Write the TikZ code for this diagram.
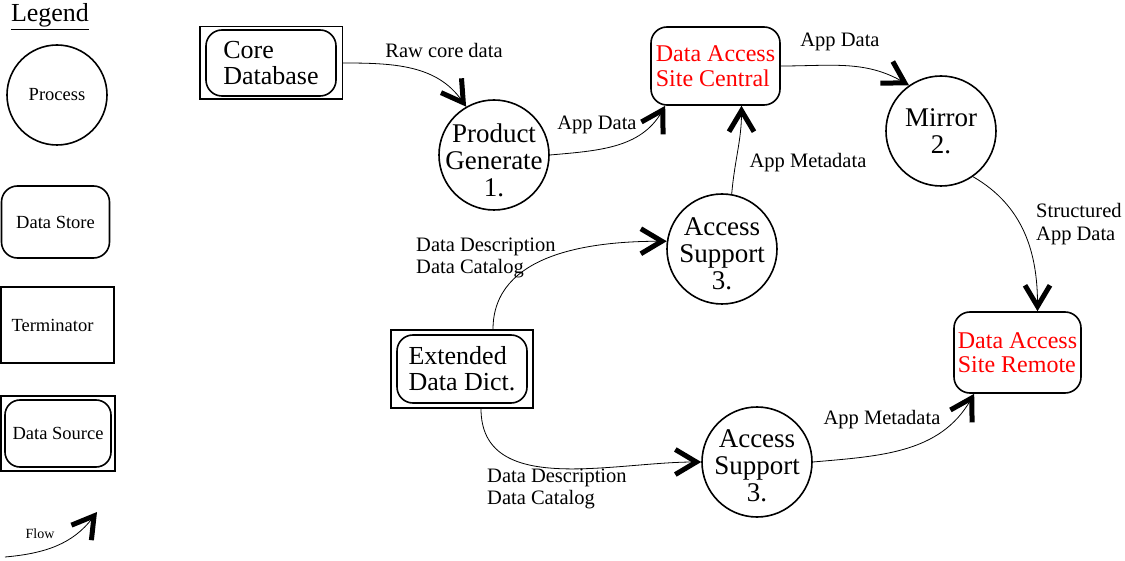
\documentclass[tikz,border=0pt]{standalone}
\usepackage{fontspec}
\setmainfont{Liberation Serif}
\usetikzlibrary{arrows.meta,fit}
\newcommand{\mybigfont}{\fontsize{27}{27}\selectfont}
\newcommand{\myboxfont}{\fontsize{26}{26}\selectfont}
\newcommand{\myredfont}{\fontsize{24}{24.5}\selectfont}
\newcommand{\mysmallfont}{\fontsize{20.5}{22.5}\selectfont}
\newcommand{\mylegendfont}{\fontsize{18.5}{20}\selectfont}
\tikzset{
  process/.style={circle, draw, line width=1.6pt, minimum size=110pt, inner sep=0pt},
  proctext/.style={align=center, font=\mybigfont},
  datastore/.style={rectangle, rounded corners=16pt, draw, line width=1.6pt, align=left},
  terminator/.style={rectangle, draw, line width=1.6pt},
  sourceframe/.style={rectangle, draw, line width=1.6pt, inner sep=0pt},
  flow/.style={-{Straight Barb[length=21pt,width=25pt,line width=5pt]}, line width=0.8pt},
  flowlabel/.style={font=\mysmallfont, align=left, inner sep=0pt},
}
\begin{document}
\begin{tikzpicture}[x=1pt,y=1pt]
\useasboundingbox (0,0) rectangle (1125,-561);
%Legend
\node [font=\fontsize{26}{26}\selectfont, anchor=base, inner sep=0pt] (legtitle) at (50,-22) {\underline{Legend}};
\node [process, minimum size=100pt, font=\mylegendfont] (legproc) at (57,-95) {Process};
\node [datastore, minimum width=108pt, minimum height=72pt, font=\mylegendfont] (legstore) at (55.5,-222) {Data Store};
\node [terminator, minimum width=113pt, minimum height=76pt, font=\mylegendfont] (legterm) at (57.5,-325) {\hspace*{-10pt}Terminator};
\node [datastore, rounded corners=15pt, minimum width=106pt, minimum height=67pt, font=\mylegendfont] (legsource) at (58,-433.5) {Data Source};
\node [sourceframe, fit=(legsource), inner xsep=3pt, inner ysep=3pt] (legsourceframe) {};
%Legend flow
\coordinate (flowstart) at (5,-557);
\coordinate (flowend) at (97,-512);
\draw [flow] (flowstart) to[out=5,in=-127] (flowend);
\node [font=\fontsize{14}{16}\selectfont] (flowtext) at (40,-534) {Flow};
%Sources
\node [datastore, minimum width=130pt, minimum height=66pt, font=\myboxfont] (coredb) at (271,-63) {Core\\Database};
\node [sourceframe, fit=(coredb), inner xsep=5.5pt, inner ysep=2.5pt] (coredbframe) {};
\node [datastore, minimum width=130pt, minimum height=68pt, font=\myboxfont] (dict) at (462,-369) {Extended\\Data Dict.};
\node [sourceframe, fit=(dict), inner xsep=5pt, inner ysep=4pt] (dictframe) {};
%Processes
\node [process, label={[proctext, yshift=-5pt]center:Product\\Generate\\1.}] (prodgen) at (494,-155) {};
\node [process, label={[proctext]center:Mirror\\2.}] (mirror) at (941,-131) {};
\node [process, label={[proctext, yshift=-5pt]center:Access\\Support\\3.}] (accsup1) at (722,-249) {};
\node [process, label={[proctext, yshift=-4pt]center:Access\\Support\\3.}] (accsup2) at (757,-462) {};
%Data stores
\node [datastore, minimum width=129pt, minimum height=78pt, text=red, font=\myredfont] (dasc) at (715.5,-66) {Data Access\\Site Central};
\node [datastore, minimum width=127pt, minimum height=81pt, text=red, font=\myredfont] (dasr) at (1017.5,-352.5) {Data Access\\Site Remote};
%Flows
\draw [flow] (coredbframe.east) to[out=0,in=125] (prodgen.120);
\draw [flow] (prodgen.east) to[out=5,in=-120] ([xshift=15pt]dasc.south west);
\draw [flow] (accsup1.80) to[out=85,in=-90] ([xshift=26pt]dasc.south);
\draw [flow] (dasc.east) to[out=0,in=150] (mirror.125);
\draw [flow] (mirror.-55) to[out=-30,in=90] ([xshift=20pt]dasr.north);
\draw [flow] ([xshift=31pt]dictframe.north) to[out=90,in=180] (accsup1.172);
\draw [flow] ([xshift=19pt]dictframe.south) to[out=-90,in=180] (accsup2.west);
\draw [flow] (accsup2.east) to[out=5,in=-120] ([xshift=21pt]dasr.south west);
%Flow labels
\node [flowlabel] (rawlabel) at (444,-50) {Raw core data};
\node [flowlabel] (appdata1) at (597,-125) {App Data};
\node [flowlabel] (appmeta1) at (808,-163) {App Metadata};
\node [flowlabel] (appdata2) at (840,-42) {App Data};
\node [flowlabel, anchor=west] (structlabel) at (1036,-224) {Structured\\App Data};
\node [flowlabel, anchor=west] (desc1) at (416,-258) {Data Description\\Data Catalog};
\node [flowlabel, anchor=west] (desc2) at (487,-489) {Data Description\\Data Catalog};
\node [flowlabel] (appmeta2) at (882,-420) {App Metadata};
\end{tikzpicture}
\end{document}
